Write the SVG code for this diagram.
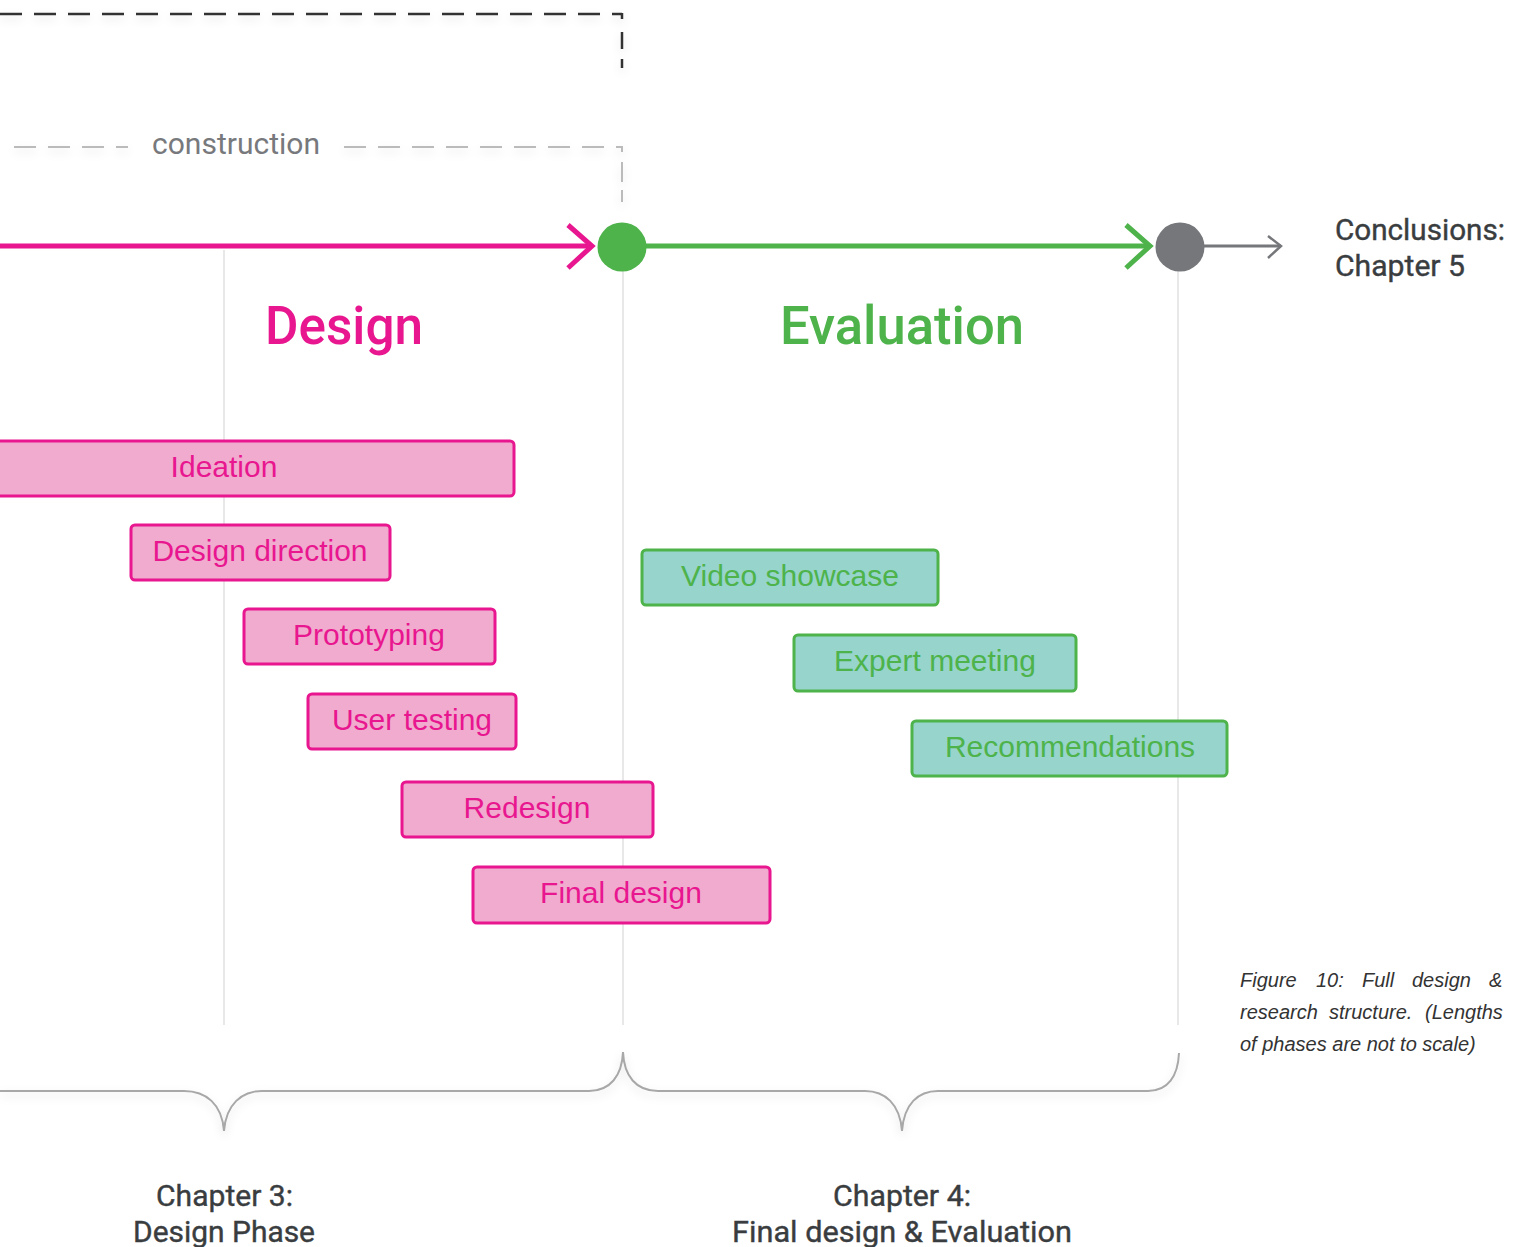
<svg xmlns="http://www.w3.org/2000/svg" width="1523" height="1247" viewBox="0 0 1523 1247">
<defs>
<filter id="sh" x="-5%" y="-50%" width="110%" height="200%">
<feDropShadow dx="0" dy="4" stdDeviation="5" flood-color="#000" flood-opacity="0.12"/>
</filter>
</defs>
<style>
.din{font-family:Roboto,"DejaVu Sans",sans-serif}
.lbl{font-family:"Liberation Sans",Arial,sans-serif;font-size:30px;text-anchor:middle}
.pk rect{fill:#f1abce;stroke:#e8168f;stroke-width:3}
.pk text{fill:#e8168f}
.gn rect{fill:#96d4cc;stroke:#4db34a;stroke-width:3}
.gn text{fill:#4db34a}
.guide{stroke:#e8e8e8;stroke-width:2;fill:none}
.brace{stroke:#a8a8a8;stroke-width:2;fill:none}
.chap{font-size:30px;font-weight:400;fill:#3a3d40;stroke:#3a3d40;stroke-width:0.4}
.cap{font-family:"Liberation Sans",Arial,sans-serif;font-style:italic;font-size:20px;fill:#333}
</style>
<rect width="1523" height="1247" fill="#fff"/>

<g id="guides">
<line class="guide" x1="224" y1="250" x2="224" y2="1025"/>
<line class="guide" x1="623" y1="270" x2="623" y2="1025"/>
<line class="guide" x1="1178" y1="270" x2="1178" y2="1025"/>
</g>

<g id="dashed-top" filter="url(#sh)">
<path d="M0,14 H622" fill="none" stroke="#333" stroke-width="2.5" stroke-dasharray="22,12"/>
<path d="M622,13 V68" fill="none" stroke="#333" stroke-width="2.5" stroke-dasharray="6,13,17,10,10"/>
</g>
<g id="construction">
<g filter="url(#sh)">
<path d="M14,147 H128" fill="none" stroke="#bbb" stroke-width="2" stroke-dasharray="22,12"/>
<path d="M344,147 H622" fill="none" stroke="#bbb" stroke-width="2" stroke-dasharray="22,12"/>
<path d="M622,146 V202" fill="none" stroke="#bbb" stroke-width="2" stroke-dasharray="6,10,20,8,12"/>
</g>
<text class="din" x="152" y="154" font-size="30" fill="#77797c" textLength="168" lengthAdjust="spacingAndGlyphs">construction</text>
</g>

<g id="connectors">
<line x1="0" y1="246" x2="592" y2="246" stroke="#e8168f" stroke-width="5"/>
<polyline points="568,225 592,246 568,268" fill="none" stroke="#e8168f" stroke-width="5"/>
<line x1="640" y1="246" x2="1150" y2="246" stroke="#4db34a" stroke-width="5"/>
<polyline points="1126,225 1150,246 1126,268" fill="none" stroke="#4db34a" stroke-width="5"/>
<line x1="1200" y1="246" x2="1281" y2="246" stroke="#75777a" stroke-width="3"/>
<polyline points="1268,236 1281,246 1268,258" fill="none" stroke="#75777a" stroke-width="2.5"/>
</g>

<g id="milestone-design"><circle cx="622" cy="247" r="24.5" fill="#4db34a"/></g>
<g id="milestone-eval"><circle cx="1180" cy="247" r="24.5" fill="#75777a"/></g>

<g id="conclusions" class="din">
<text class="chap" x="1335" y="240" textLength="170" lengthAdjust="spacingAndGlyphs">Conclusions:</text>
<text class="chap" x="1335" y="276" textLength="130" lengthAdjust="spacingAndGlyphs">Chapter 5</text>
</g>

<g id="title-design"><text class="din" x="265" y="344" font-size="53" font-weight="500" fill="#e8168f" textLength="158" lengthAdjust="spacingAndGlyphs">Design</text></g>
<g id="title-evaluation"><text class="din" x="780" y="344" font-size="53" font-weight="500" fill="#4db34a" textLength="244" lengthAdjust="spacingAndGlyphs">Evaluation</text></g>

<g id="ideation" class="pk"><rect x="-5" y="441" width="519" height="55" rx="4"/><text class="lbl" x="224" y="477">Ideation</text></g>
<g id="design-direction" class="pk"><rect x="131" y="525" width="259" height="55" rx="4"/><text class="lbl" x="260" y="561">Design direction</text></g>
<g id="prototyping" class="pk"><rect x="244" y="609" width="251" height="55" rx="4"/><text class="lbl" x="369" y="645">Prototyping</text></g>
<g id="user-testing" class="pk"><rect x="308" y="694" width="208" height="55" rx="4"/><text class="lbl" x="412" y="730">User testing</text></g>
<g id="redesign" class="pk"><rect x="402" y="782" width="251" height="55" rx="4"/><text class="lbl" x="527" y="818">Redesign</text></g>
<g id="final-design" class="pk"><rect x="473" y="867" width="297" height="56" rx="4"/><text class="lbl" x="621" y="903">Final design</text></g>

<g id="video-showcase" class="gn"><rect x="642" y="550" width="296" height="55" rx="4"/><text class="lbl" x="790" y="586">Video showcase</text></g>
<g id="expert-meeting" class="gn"><rect x="794" y="635" width="282" height="56" rx="4"/><text class="lbl" x="935" y="671">Expert meeting</text></g>
<g id="recommendations" class="gn"><rect x="912" y="721" width="315" height="55" rx="4"/><text class="lbl" x="1070" y="757">Recommendations</text></g>

<g id="braces" filter="url(#sh)">
<path class="brace" d="M0,1091 H184 C206,1091 222,1104 224,1131 C226,1104 242,1091 262,1091 H589 C610,1091 622,1076 623,1052 C624,1076 636,1091 658,1091 H865 C885,1091 900,1104 902,1131 C904,1104 918,1091 938,1091 H1148 C1168,1091 1178,1076 1179,1053"/>
</g>

<g id="chapter3" class="din">
<text class="chap" x="156" y="1206" textLength="137" lengthAdjust="spacingAndGlyphs">Chapter 3:</text>
<text class="chap" x="133" y="1242" textLength="182" lengthAdjust="spacingAndGlyphs">Design Phase</text>
</g>
<g id="chapter4" class="din">
<text class="chap" x="833" y="1206" textLength="138" lengthAdjust="spacingAndGlyphs">Chapter 4:</text>
<text class="chap" x="732" y="1242" textLength="340" lengthAdjust="spacingAndGlyphs">Final design &amp; Evaluation</text>
</g>

<g id="caption" class="cap">
<text y="987"><tspan x="1240">Figure</tspan><tspan x="1316">10:</tspan><tspan x="1362">Full</tspan><tspan x="1412">design</tspan><tspan x="1489">&amp;</tspan></text>
<text y="1019"><tspan x="1240">research</tspan><tspan x="1329">structure.</tspan><tspan x="1425">(Lengths</tspan></text>
<text x="1240" y="1051">of phases are not to scale)</text>
</g>
</svg>
